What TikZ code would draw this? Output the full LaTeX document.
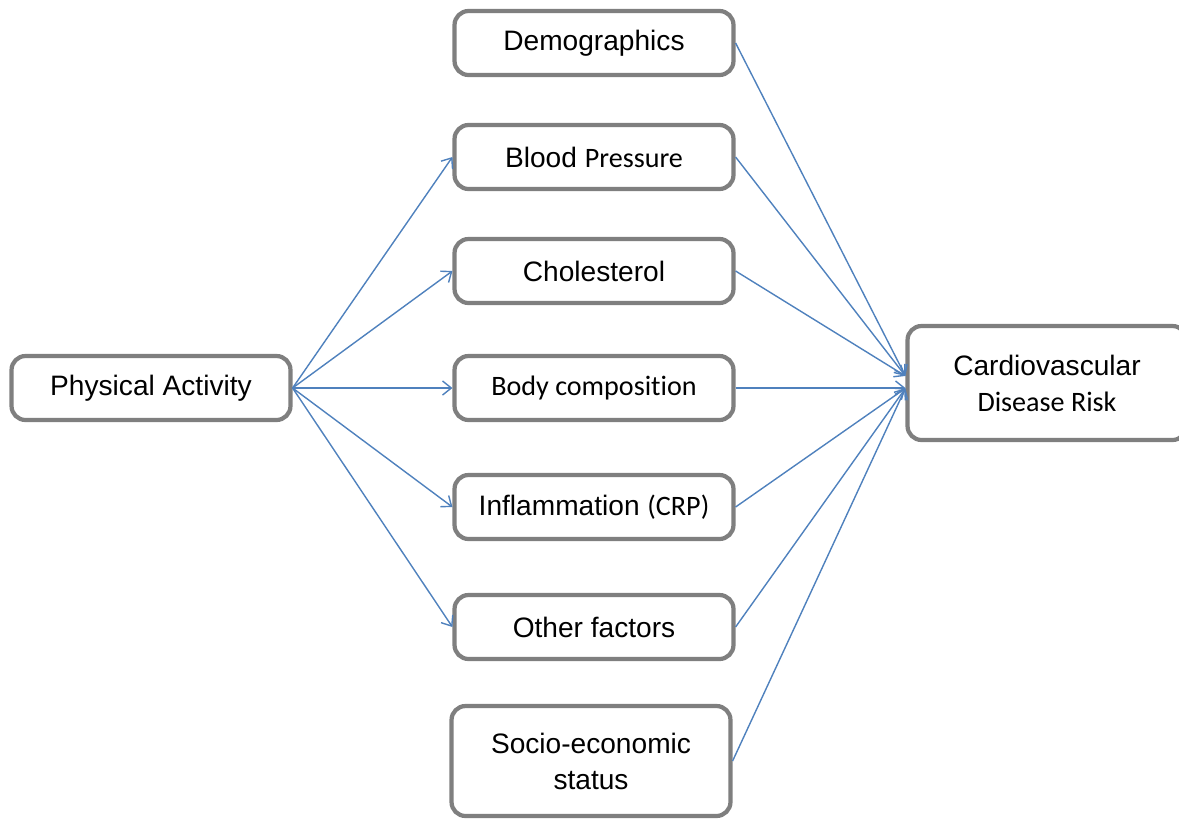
\documentclass[tikz,border=0pt]{standalone}
\usepackage{fontspec}
\setmainfont{Liberation Sans}
\newfontfamily\calibri[Ligatures=NoCommon]{Carlito}
\usetikzlibrary{arrows.meta}
\definecolor{boxgray}{RGB}{127,127,127}
\definecolor{linkblue}{RGB}{79,129,189}

\begin{document}
\begin{tikzpicture}[x = 0.02cm, y = -0.02cm,
		box/.style = {draw=boxgray, line width=2.4pt, rounded corners=0.28cm, fill=white,
			minimum width=5.58cm, minimum height=1.28cm, align=center,
			font=\fontsize{16}{20.5}\selectfont},
		link/.style = {draw=linkblue, line width=0.8pt, -{Straight Barb[length=5pt,width=8pt]}}]
		\useasboundingbox (0,0) rectangle (1179,819);
		% left and middle boxes
		\node[box] (pa) at (151,388) {Physical Activity};
		\node[box] (demo) at (594,43) {Demographics};
		\node[box] (bp) at (594,157) {Blood {\calibri Pressure}};
		\node[box] (chol) at (594,271) {Cholesterol};
		\node[box] (body) at (594,388) {\calibri Body composition};
		\node[box] (infl) at (594,507) {Inflammation {\calibri (CRP)}};
		\node[box] (other) at (594,627) {Other factors};
		\node[box, minimum height=2.2cm] (ses) at (591,761) {Socio-economic\\status};
		% outcome
		\node[box, minimum width=5.58cm, minimum height=2.28cm] (cvd) at (1047,383) {Cardiovascular\\{\calibri Disease Risk}};
		% links from physical activity
		\foreach \m in {bp, chol, body, infl, other}
			\draw[link] (pa.east) -- (\m.west);
		% links to the outcome
		\foreach \m in {demo, bp, chol}
			\draw[link] (\m.east) -- ([yshift=4pt]cvd.west);
		\draw[link] (body.east) -- (body.east -| cvd.west);
		\foreach \m in {infl, other, ses}
			\draw[link] (\m.east) -- ([yshift=-3pt]cvd.west);
	\end{tikzpicture}
\end{document}
